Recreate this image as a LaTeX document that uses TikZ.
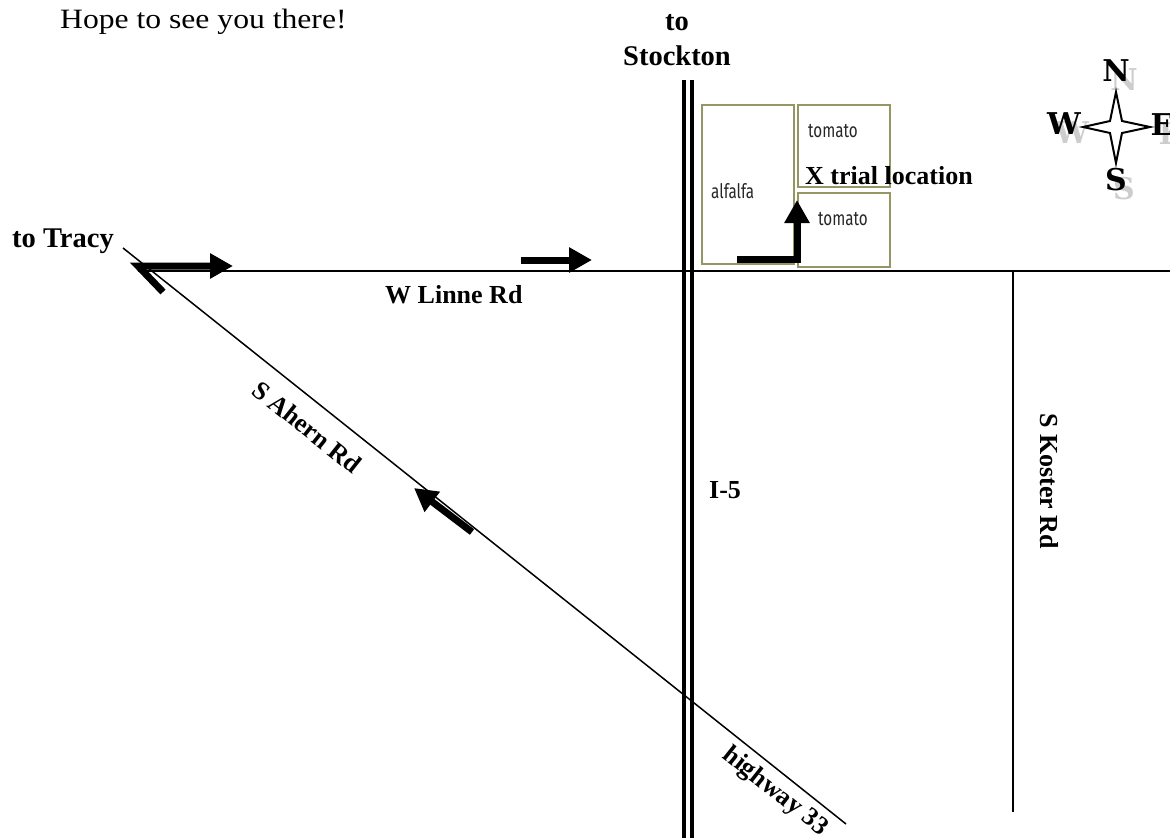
\documentclass[tikz,border=0pt]{standalone}
\usepackage{fontspec}
\setmainfont{Liberation Serif}
\newfontfamily\hopefont[FakeStretch=1.13]{Liberation Serif}
\newfontfamily\condsans[FakeStretch=0.76]{Fira Sans}
\newfontfamily\compassfont{DejaVu Serif}
\usetikzlibrary{arrows.meta}
\definecolor{fieldcol}{RGB}{150,150,100}
\definecolor{shadowgray}{RGB}{205,205,205}
\tikzset{
  road/.style={line width=2.5pt},
  thinroad/.style={line width=1.5pt},
  lbl/.style={font=\fontsize{26}{30}\selectfont\bfseries, inner sep=0pt},
  biglbl/.style={font=\fontsize{28.5}{33}\selectfont\bfseries, inner sep=0pt},
  field/.style={draw=fieldcol, line width=2pt},
  crop/.style={font=\condsans\fontsize{20}{24}\selectfont, text=black!85, inner sep=0pt},
  fatarrow/.style={line width=7pt, line join=miter, -{Triangle[length=23pt,width=24pt]}},
  compass/.style={font=\compassfont\bfseries\fontsize{30}{32}\selectfont, inner sep=0pt},
  cshadow/.style={compass, text=shadowgray},
}
\begin{document}
\begin{tikzpicture}[x=1pt,y=-1pt]
\useasboundingbox (0,0) rectangle (1170,838);
\clip (0,0) rectangle (1170,838);

% coordinates
\coordinate (linneW) at (138,271);
\coordinate (linneE) at (1170,271);
\coordinate (i5aN) at (684,80);
\coordinate (i5aS) at (684,838);
\coordinate (i5bN) at (692,80);
\coordinate (i5bS) at (692,838);
\coordinate (kosterN) at (1013,271);
\coordinate (kosterS) at (1013,812);
\coordinate (ahernNW) at (123,248);
\coordinate (ahernSE) at (846,824);

% roads
\draw[road] (linneW) -- (linneE);
\draw[line width=3.5pt] (i5aN) -- (i5aS);
\draw[line width=3.5pt] (i5bN) -- (i5bS);
\draw[road] (kosterN) -- (kosterS);
\draw[thinroad] (ahernNW) -- (ahernSE);

% fields
\draw[field] (702,105) rectangle (794,264);
\draw[field] (798,105) rectangle (890,187);
\draw[field] (798,193) rectangle (890,267);
\node[crop, anchor=base west] (alf) at (711,198) {alfalfa};
\node[crop, anchor=base west] (tom1) at (808,137) {tomato};
\node[crop, anchor=base west] (tom2) at (818,225) {tomato};

% direction arrows
\coordinate (a1s) at (163,292);
\coordinate (a1c) at (138,266);
\coordinate (a1e) at (233,266);
\draw[fatarrow] (a1s) -- (a1c) -- (a1e);
\coordinate (a2s) at (521,260);
\coordinate (a2e) at (592,260);
\draw[fatarrow] (a2s) -- (a2e);
\coordinate (a3s) at (472,532);
\coordinate (a3e) at (414,488);
\draw[fatarrow] (a3s) -- (a3e);
\coordinate (a4s) at (737,259.5);
\coordinate (a4c) at (797,259.5);
\coordinate (a4e) at (797,200);
\draw[fatarrow] (a4s) -- (a4c) -- (a4e);

% labels
\node[font=\hopefont\fontsize{28}{32}\selectfont, inner sep=0pt, anchor=base west] (hope) at (60,28) {Hope to see you there!};
\node[biglbl, anchor=base] (to) at (677,30) {to};
\node[biglbl, anchor=base] (stockton) at (677,65) {Stockton};
\node[biglbl, anchor=base west] (tracy) at (12,247) {to Tracy};
\node[lbl, anchor=base west] (linne) at (385,303) {W Linne Rd};
\node[lbl, anchor=base west] (trial) at (805,184) {X trial location};
\node[lbl, anchor=base west] (i5) at (709,498) {I-5};
\node[lbl, rotate=-38.5] (ahern) at (307,427) {S Ahern Rd};
\node[lbl, rotate=-38.5] (hwy) at (775,792) {highway 33};
\node[lbl, rotate=-90] (koster) at (1049,481) {S Koster Rd};

% compass
\node[cshadow] at (1124,80) {N};
\node[cshadow] at (1072,133) {W};
\node[cshadow] at (1124,189) {S};
\node[cshadow] at (1170,134) {E};
\node[compass] (cn) at (1116,71) {N};
\node[compass] (cw) at (1064,124) {W};
\node[compass] (cs) at (1116,180) {S};
\node[compass] (ce) at (1162,125) {E};
\coordinate (cc) at (1116,127);
\draw[line width=2pt, fill=white, line join=miter]
  (1116,92) -- (1122,121) -- (1150,127) -- (1122,133) -- (1116,163)
  -- (1110,133) -- (1083,127) -- (1110,121) -- cycle;
\end{tikzpicture}
\end{document}
